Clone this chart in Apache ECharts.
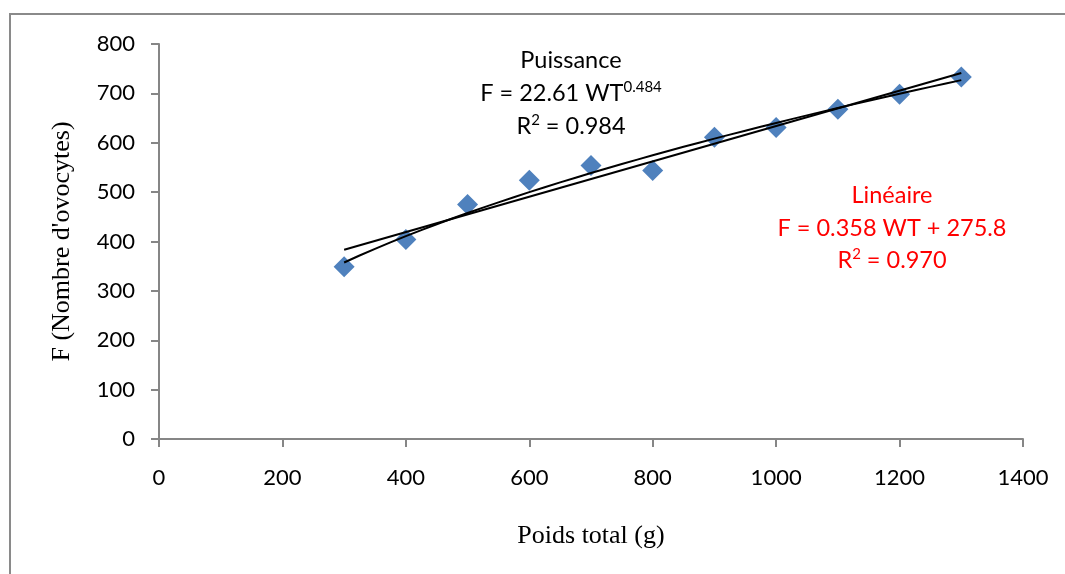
<!DOCTYPE html>
<html>
<head>
<meta charset="utf-8">
<script src="https://cdn.jsdelivr.net/npm/echarts@6/dist/echarts.min.js"></script>
<style>
html,body{margin:0;padding:0;background:#fff;}
#c{width:1065px;height:574px;}
</style>
</head>
<body>
<div id="c"></div>
<script>
// Data
var weights = [300, 400, 500, 600, 700, 800, 900, 1000, 1100, 1200, 1300];
var fecundity = [349, 404, 475, 524, 554, 544, 611, 631, 668, 698, 733];
var xTicks = [0, 200, 400, 600, 800, 1000, 1200, 1400];
var yTicks = [0, 100, 200, 300, 400, 500, 600, 700, 800];
// Trend line coefficients as printed on the chart
var linSlope = 0.358, linIntercept = 275.8;
var powA = 22.61, powB = 0.484;
var trendStart = 300, trendEnd = 1300, trendStep = 25;

var scatterData = weights.map(function (w, i) { return [w, fecundity[i]]; });
var linData = [[trendStart, linSlope * trendStart + linIntercept], [trendEnd, linSlope * trendEnd + linIntercept]];
var powData = [];
for (var x = trendStart; x <= trendEnd; x += trendStep) powData.push([x, powA * Math.pow(x, powB)]);

var chart = echarts.init(document.getElementById('c'));
var axisGray = '#868686';
var sans = 'Lato, "Open Sans", sans-serif';
var serif = '"Liberation Serif", "Times New Roman", serif';
var annSize = 23.5;
function richStyles(color) {
  return {
    a: { fontSize: annSize, fontFamily: sans, fill: color, color: color },
    s: { fontSize: 15, fontFamily: sans, fill: color, color: color, padding: [0, 0, 12, 0] }
  };
}
function ann(x, y, text, color) {
  return { type: 'text', x: x, y: y, silent: true,
    style: { text: text, align: 'center', verticalAlign: 'middle', rich: richStyles(color) } };
}
chart.setOption({
  animation: false,
  grid: { left: 159, right: 42, top: 44, bottom: 135 },
  xAxis: {
    type: 'value', min: 0, max: 1400, interval: 200,
    splitLine: { show: false },
    axisLine: { show: true, onZero: false, lineStyle: { color: axisGray, width: 2 } },
    axisTick: { show: true, length: 8, lineStyle: { color: axisGray, width: 2 } },
    axisLabel: { color: '#000', fontSize: 22, fontFamily: sans, margin: 28,
      formatter: function (v) { return String(v); } },
    name: 'Poids total (g)', nameLocation: 'middle', nameGap: 84,
    nameTextStyle: { color: '#000', fontSize: 26, fontFamily: serif }
  },
  yAxis: {
    type: 'value', min: 0, max: 800, interval: 100,
    splitLine: { show: false },
    axisLine: { show: true, lineStyle: { color: axisGray, width: 2 } },
    axisTick: { show: true, length: 8, lineStyle: { color: axisGray, width: 2 } },
    axisLabel: { color: '#000', fontSize: 22, fontFamily: sans, margin: 24,
      formatter: function (v) { return String(v); } },
    name: "F (Nombre d'ovocytes)", nameLocation: 'middle', nameGap: 84, nameRotate: 90,
    nameTextStyle: { color: '#000', fontSize: 26, fontFamily: serif }
  },
  series: [
    { type: 'scatter', data: scatterData, symbol: 'diamond', symbolSize: 21,
      itemStyle: { color: '#4F81BD', opacity: 1 }, z: 2 },
    { type: 'line', data: linData, symbol: 'none', lineStyle: { color: '#000', width: 2 }, z: 3 },
    { type: 'line', data: powData, symbol: 'none', smooth: false, lineStyle: { color: '#000', width: 2 }, z: 3 }
  ],
  graphic: [
    { type: 'rect', shape: { x: 10, y: 14, width: 1100, height: 620 },
      style: { fill: 'none', stroke: '#8a8a8a', lineWidth: 2 }, silent: true, z: -1 },
    ann(571, 60, '{a|Puissance}', '#000'),
    ann(571, 93, '{a|F = 22.61 WT}{s|0.484}', '#000'),
    ann(571, 126, '{a|R}{s|2}{a| = 0.984}', '#000'),
    ann(892, 195, '{a|Linéaire}', '#FF0000'),
    ann(892, 228, '{a|F = 0.358 WT + 275.8}', '#FF0000'),
    ann(892, 260, '{a|R}{s|2}{a| = 0.970}', '#FF0000')
  ]
});
</script>
</body>
</html>
